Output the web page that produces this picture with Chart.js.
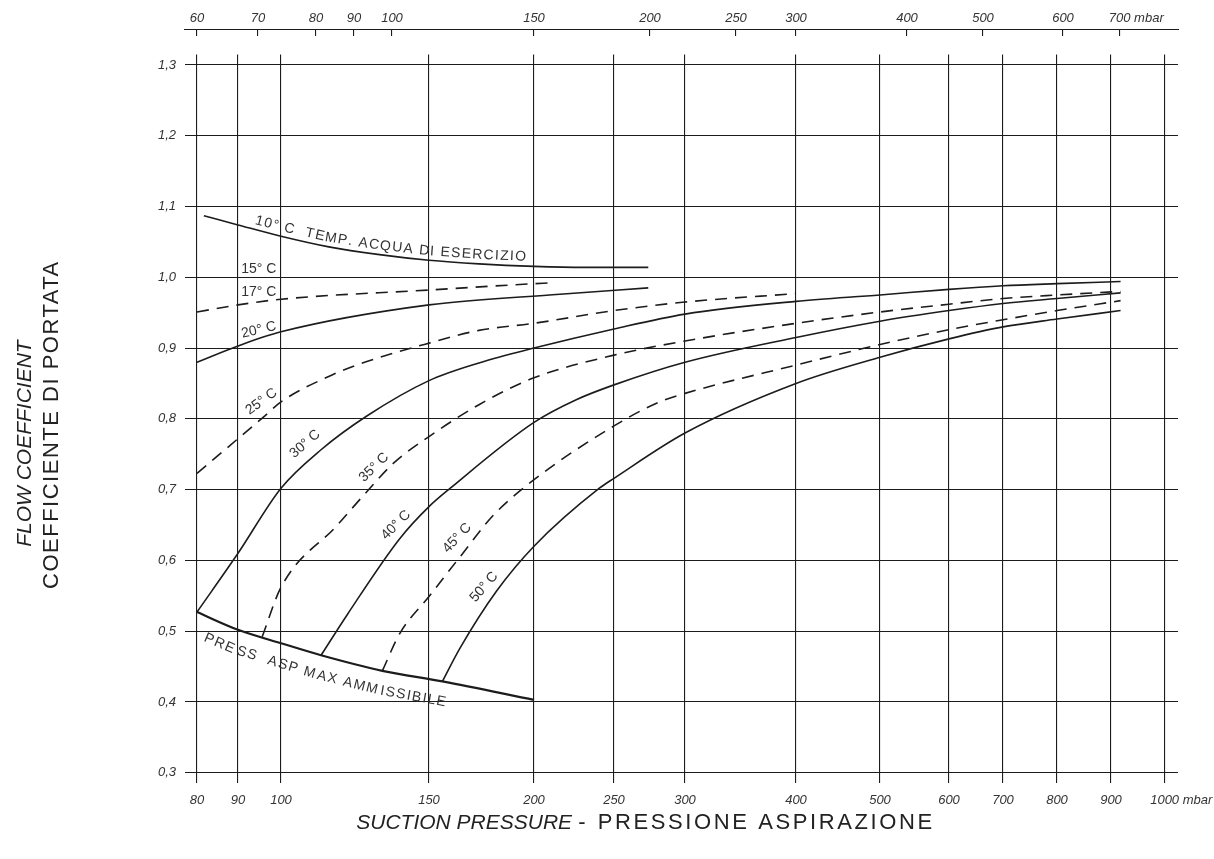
<!DOCTYPE html>
<html>
<head>
<meta charset="utf-8">
<title>Coefficiente di portata</title>
<script src="https://cdn.jsdelivr.net/npm/chart.js@4.4.1/dist/chart.umd.min.js"></script>
<style>
  html, body { margin: 0; padding: 0; background: #fff; }
  #wrap { width: 1214px; height: 859px; }
</style>
</head>
<body>
<div id="wrap"><canvas id="flow-chart"></canvas></div>
<script>
'use strict';

// tick values
const pressTicks = [80, 90, 100, 150, 200, 250, 300, 400, 500, 600, 700, 800, 900, 1000];
const topTicks = [60, 70, 80, 90, 100, 150, 200, 250, 300, 400, 500, 600, 700];
const coefTicks = [0.3, 0.4, 0.5, 0.6, 0.7, 0.8, 0.9, 1.0, 1.1, 1.2, 1.3];

// curves: suction pressure (mbar) -> flow coefficient
const p10 = [81.6, 90, 100, 114, 131, 150, 172, 200, 230, 273];
const k10 = [1.087, 1.074, 1.058, 1.043, 1.032, 1.024, 1.019, 1.0155, 1.014, 1.014];
const p17 = [80, 90, 100, 150, 200, 208];
const k17 = [0.951, 0.961, 0.969, 0.982, 0.991, 0.992];
const p20 = [80, 90, 100, 150, 215, 273];
const k20 = [0.880, 0.903, 0.923, 0.961, 0.976, 0.985];
const p25 = [80, 90, 95.7, 100, 115, 126.5, 150, 172, 200, 250, 300, 400];
const k25 = [0.723, 0.772, 0.802, 0.824, 0.862, 0.881, 0.907, 0.925, 0.935, 0.953, 0.965, 0.977];
const p30 = [80, 90, 100, 111.5, 126.5, 150, 172, 200, 250, 300, 400, 500, 600, 700, 800, 917];
const k30 = [0.527, 0.61, 0.702, 0.756, 0.804, 0.854, 0.879, 0.9, 0.927, 0.948, 0.966, 0.975, 0.983, 0.988, 0.991, 0.994];
const p35 = [95.5, 100, 116.5, 126.5, 136, 150, 172, 200, 250, 300, 400, 500, 600, 700, 800, 917];
const k35 = [0.492, 0.562, 0.649, 0.697, 0.737, 0.775, 0.82, 0.858, 0.89, 0.91, 0.935, 0.951, 0.962, 0.97, 0.975, 0.98];
const p40 = [111.6, 120, 138.5, 150, 159, 200, 225, 250, 300, 400, 500, 600, 700, 800, 917];
const k40 = [0.466, 0.524, 0.631, 0.676, 0.702, 0.795, 0.827, 0.848, 0.88, 0.915, 0.938, 0.953, 0.963, 0.97, 0.978];
const p45 = [132, 138.5, 150, 163.3, 179, 200, 250, 281, 300, 400, 500, 600, 700, 800, 917];
const k45 = [0.444, 0.497, 0.549, 0.605, 0.664, 0.714, 0.790, 0.824, 0.836, 0.876, 0.905, 0.926, 0.94, 0.953, 0.967];
const p50 = [155.6, 163.3, 180.6, 200, 240, 250, 300, 400, 500, 600, 700, 800, 917];
const k50 = [0.429, 0.476, 0.557, 0.62, 0.702, 0.716, 0.78, 0.85, 0.887, 0.913, 0.93, 0.941, 0.953];
const pPress = [80, 90, 100, 111.6, 132, 155.6, 200];
const kPress = [0.527, 0.502, 0.483, 0.466, 0.444, 0.429, 0.403];

// curve labels and where they sit (pressure, coefficient, angle)
const tempLabels = ['15° C', '17° C', '20° C', '25° C', '30° C', '35° C', '40° C', '45° C', '50° C'];
const tempLabelAt = [
  [94.7, 1.012, 0], [94.7, 0.979, 0], [94.7, 0.9255, -13], [95.3, 0.8245, -36],
  [106.8, 0.7645, -41], [129, 0.7313, -44], [137, 0.65, -45], [162, 0.6316, -47], [174.4, 0.5624, -49]
];

// the drawn grid is not a true log scale, so each axis is pinned by its tick positions
const pressPos = [197, 238, 281, 429, 534, 614, 685, 796, 880, 949, 1003, 1057, 1111, 1165];
const topPos = [197, 258, 316, 354, 392, 534, 650, 736, 796, 907, 983, 1063, 1120];
const axisSpan = [185, 1178];

class KnotScale extends Chart.Scale {
  determineDataLimits() {
    const k = this.options.knots;
    this.min = k[0][0];
    this.max = k[k.length - 1][0];
  }
  buildTicks() {
    return this.options.knots.map(k => ({ value: k[0] }));
  }
  unitAt(v) {
    const k = this.options.knots;
    let i = 1;
    while (i < k.length - 1 && v > k[i][0]) i++;
    const a = k[i - 1], b = k[i];
    return a[1] + (b[1] - a[1]) * Math.log(v / a[0]) / Math.log(b[0] / a[0]);
  }
  valueAtUnit(u) {
    const k = this.options.knots;
    let i = 1;
    while (i < k.length - 1 && u > k[i][1]) i++;
    const a = k[i - 1], b = k[i];
    return a[0] * Math.pow(b[0] / a[0], (u - a[1]) / (b[1] - a[1]));
  }
  getPixelForValue(v) {
    const span = this.options.span;
    return this.getPixelForDecimal((this.unitAt(v) - span[0]) / (span[1] - span[0]));
  }
  getValueForPixel(px) {
    const span = this.options.span;
    return this.valueAtUnit(span[0] + this.getDecimalForPixel(px) * (span[1] - span[0]));
  }
}
KnotScale.id = 'knots';
KnotScale.defaults = {};
Chart.register(KnotScale);

const INK = '#1c1c1c';
const TXT = '#333';
const FONT = '"Liberation Sans", Arial, sans-serif';
const tickFont = { family: FONT, size: 13, style: 'italic' };

const zip = (xs, ys) => xs.map((x, i) => ({ x: x, y: ys[i] }));
const curve = (xs, ys, dashed, width) => ({
  data: zip(xs, ys),
  borderColor: INK,
  borderWidth: width || 1.6,
  borderDash: dashed ? [12, 8] : [],
  pointRadius: 0,
  fill: false,
  cubicInterpolationMode: 'monotone'
});

const unitLabel = (ticks) => (v, i) =>
  i === ticks.length - 1 ? '         ' + v + ' mbar' : String(v);

const noPad = (s) => { s.paddingLeft = 0; s.paddingRight = 0; s.paddingTop = 0; s.paddingBottom = 0; };

// draws text in pieces, each with its own font and letter spacing
function drawRuns(ctx, runs, cx, cy, rot) {
  const width = (r) => {
    ctx.font = r.font;
    ctx.letterSpacing = (r.spacing || 0) + 'px';
    return ctx.measureText(r.text).width;
  };
  const total = runs.reduce((s, r) => s + width(r), 0);
  ctx.save();
  ctx.translate(cx, cy);
  ctx.rotate(rot);
  ctx.textAlign = 'left';
  ctx.textBaseline = 'middle';
  let x = -total / 2;
  runs.forEach(r => {
    const w = width(r);
    ctx.fillText(r.text, x, 0);
    x += w;
  });
  ctx.letterSpacing = '0px';
  ctx.restore();
}

const curveText = {
  id: 'curveText',
  afterDatasetsDraw(chart) {
    const { ctx } = chart;
    const xs = chart.scales.x, ys = chart.scales.y;
    ctx.save();
    ctx.fillStyle = TXT;
    ctx.font = '14px ' + FONT;
    ctx.textAlign = 'center';
    ctx.textBaseline = 'middle';
    tempLabels.forEach((t, i) => {
      const [p, k, a] = tempLabelAt[i];
      ctx.save();
      ctx.translate(xs.getPixelForValue(p), ys.getPixelForValue(k));
      ctx.rotate(a * Math.PI / 180);
      ctx.fillText(t, 0, 0);
      ctx.restore();
    });
    pathText(ctx, chart.getDatasetMeta(0).data, '10° C  TEMP. ACQUA DI ESERCIZIO',
      xs.getPixelForValue(93.4), -9, 1.3);
    pathText(ctx, chart.getDatasetMeta(9).data, 'PRESS  ASP MAX AMMISSIBILE',
      xs.getPixelForValue(83.7), 20, 1.4);
    ctx.restore();
  },
  afterDraw(chart) {
    const { ctx, chartArea } = chart;
    const midX = (chartArea.left + chartArea.right) / 2;
    const midY = (chartArea.top + chartArea.bottom) / 2;
    const ital = 'italic 21px ' + FONT, norm = '22px ' + FONT;
    ctx.save();
    ctx.fillStyle = '#222';
    drawRuns(ctx, [
      { text: 'SUCTION PRESSURE', font: ital },
      { text: ' -  ', font: norm },
      { text: 'PRESSIONE ASPIRAZIONE', font: norm, spacing: 2.6 }
    ], midX - 36, chartArea.bottom + 40, 0);
    drawRuns(ctx, [{ text: 'FLOW COEFFICIENT', font: ital }], 25, midY + 25, -Math.PI / 2);
    drawRuns(ctx, [{ text: 'COEFFICIENTE DI PORTATA', font: norm, spacing: 1.5 }], 52, midY + 6, -Math.PI / 2);
    ctx.restore();
  }
};

// lay characters one by one along the drawn points of a curve
function pathText(ctx, pts, text, startX, offset, spacing) {
  const segs = [];
  let total = 0;
  for (let i = 1; i < pts.length; i++) {
    const dx = pts[i].x - pts[i - 1].x, dy = pts[i].y - pts[i - 1].y;
    const len = Math.hypot(dx, dy);
    segs.push({ a: pts[i - 1], dx, dy, len, s0: total });
    total += len;
  }
  let s = 0;
  for (const g of segs) {
    if (startX <= g.a.x + g.dx) { s = g.s0 + (startX - g.a.x) / g.dx * g.len; break; }
  }
  for (const ch of text) {
    const w = ctx.measureText(ch).width;
    const mid = s + w / 2;
    const g = segs.find(q => mid <= q.s0 + q.len) || segs[segs.length - 1];
    const t = (mid - g.s0) / g.len;
    const ang = Math.atan2(g.dy, g.dx);
    ctx.save();
    ctx.translate(g.a.x + g.dx * t - Math.sin(ang) * offset, g.a.y + g.dy * t + Math.cos(ang) * offset);
    ctx.rotate(ang);
    ctx.fillText(ch, 0, 0);
    ctx.restore();
    s += w + spacing;
  }
}

const chart = new Chart(document.getElementById('flow-chart'), {
  type: 'line',
  data: {
    datasets: [
      curve(p10, k10, false),
      curve(p17, k17, true),
      curve(p20, k20, false),
      curve(p25, k25, true),
      curve(p30, k30, false),
      curve(p35, k35, true),
      curve(p40, k40, false),
      curve(p45, k45, true),
      curve(p50, k50, false),
      curve(pPress, kPress, false, 2.2)
    ]
  },
  options: {
    responsive: true,
    maintainAspectRatio: false,
    animation: false,
    layout: { padding: { left: 0, right: 36, top: 10, bottom: 0 } },
    plugins: { legend: { display: false }, tooltip: { enabled: false } },
    events: [],
    scales: {
      x: {
        type: 'knots',
        position: 'bottom',
        knots: pressTicks.map((v, i) => [v, pressPos[i]]),
        span: axisSpan,
        grid: { color: INK, lineWidth: 1.1, drawTicks: false },
        border: { display: false },
        ticks: { font: tickFont, color: TXT, padding: 10, maxRotation: 0, autoSkip: false,
                 callback: unitLabel(pressTicks) },
        afterFit: (s) => { s.height = 76.3; noPad(s); }
      },
      xt: {
        type: 'knots',
        position: 'top',
        weight: 3,
        knots: topTicks.map((v, i) => [v, topPos[i]]),
        span: axisSpan,
        grid: { display: false, drawTicks: false },
        border: { display: true, color: INK, width: 1.1 },
        ticks: { font: tickFont, color: TXT, padding: 3, maxRotation: 0, autoSkip: false,
                 callback: unitLabel(topTicks) },
        afterFit: (s) => { s.height = 19.5; noPad(s); }
      },
      xtm: {
        type: 'knots',
        position: 'top',
        weight: 2,
        knots: topTicks.map((v, i) => [v, topPos[i]]),
        span: axisSpan,
        grid: { display: true, drawOnChartArea: false, drawTicks: true, tickLength: 6.5, color: INK, lineWidth: 1.1 },
        border: { display: false },
        ticks: { display: false },
        afterFit: (s) => { s.height = 6.5; noPad(s); }
      },
      xs: {
        type: 'knots',
        position: 'top',
        weight: 1,
        knots: topTicks.map((v, i) => [v, topPos[i]]),
        span: axisSpan,
        grid: { display: false, drawTicks: false },
        border: { display: false },
        ticks: { display: false },
        afterFit: (s) => { s.height = 18.5; noPad(s); }
      },
      y: {
        type: 'linear',
        position: 'left',
        min: 0.2859,
        max: 1.3148,
        afterBuildTicks: (s) => { s.ticks = coefTicks.map(v => ({ value: v })); },
        grid: { color: INK, lineWidth: 1.1, drawTicks: false },
        border: { display: false },
        ticks: { font: tickFont, color: TXT, padding: 9,
                 callback: (v) => v.toFixed(1).replace('.', ',') },
        afterFit: (s) => { s.width = 185; noPad(s); }
      }
    }
  },
  plugins: [curveText]
});
</script>
</body>
</html>
